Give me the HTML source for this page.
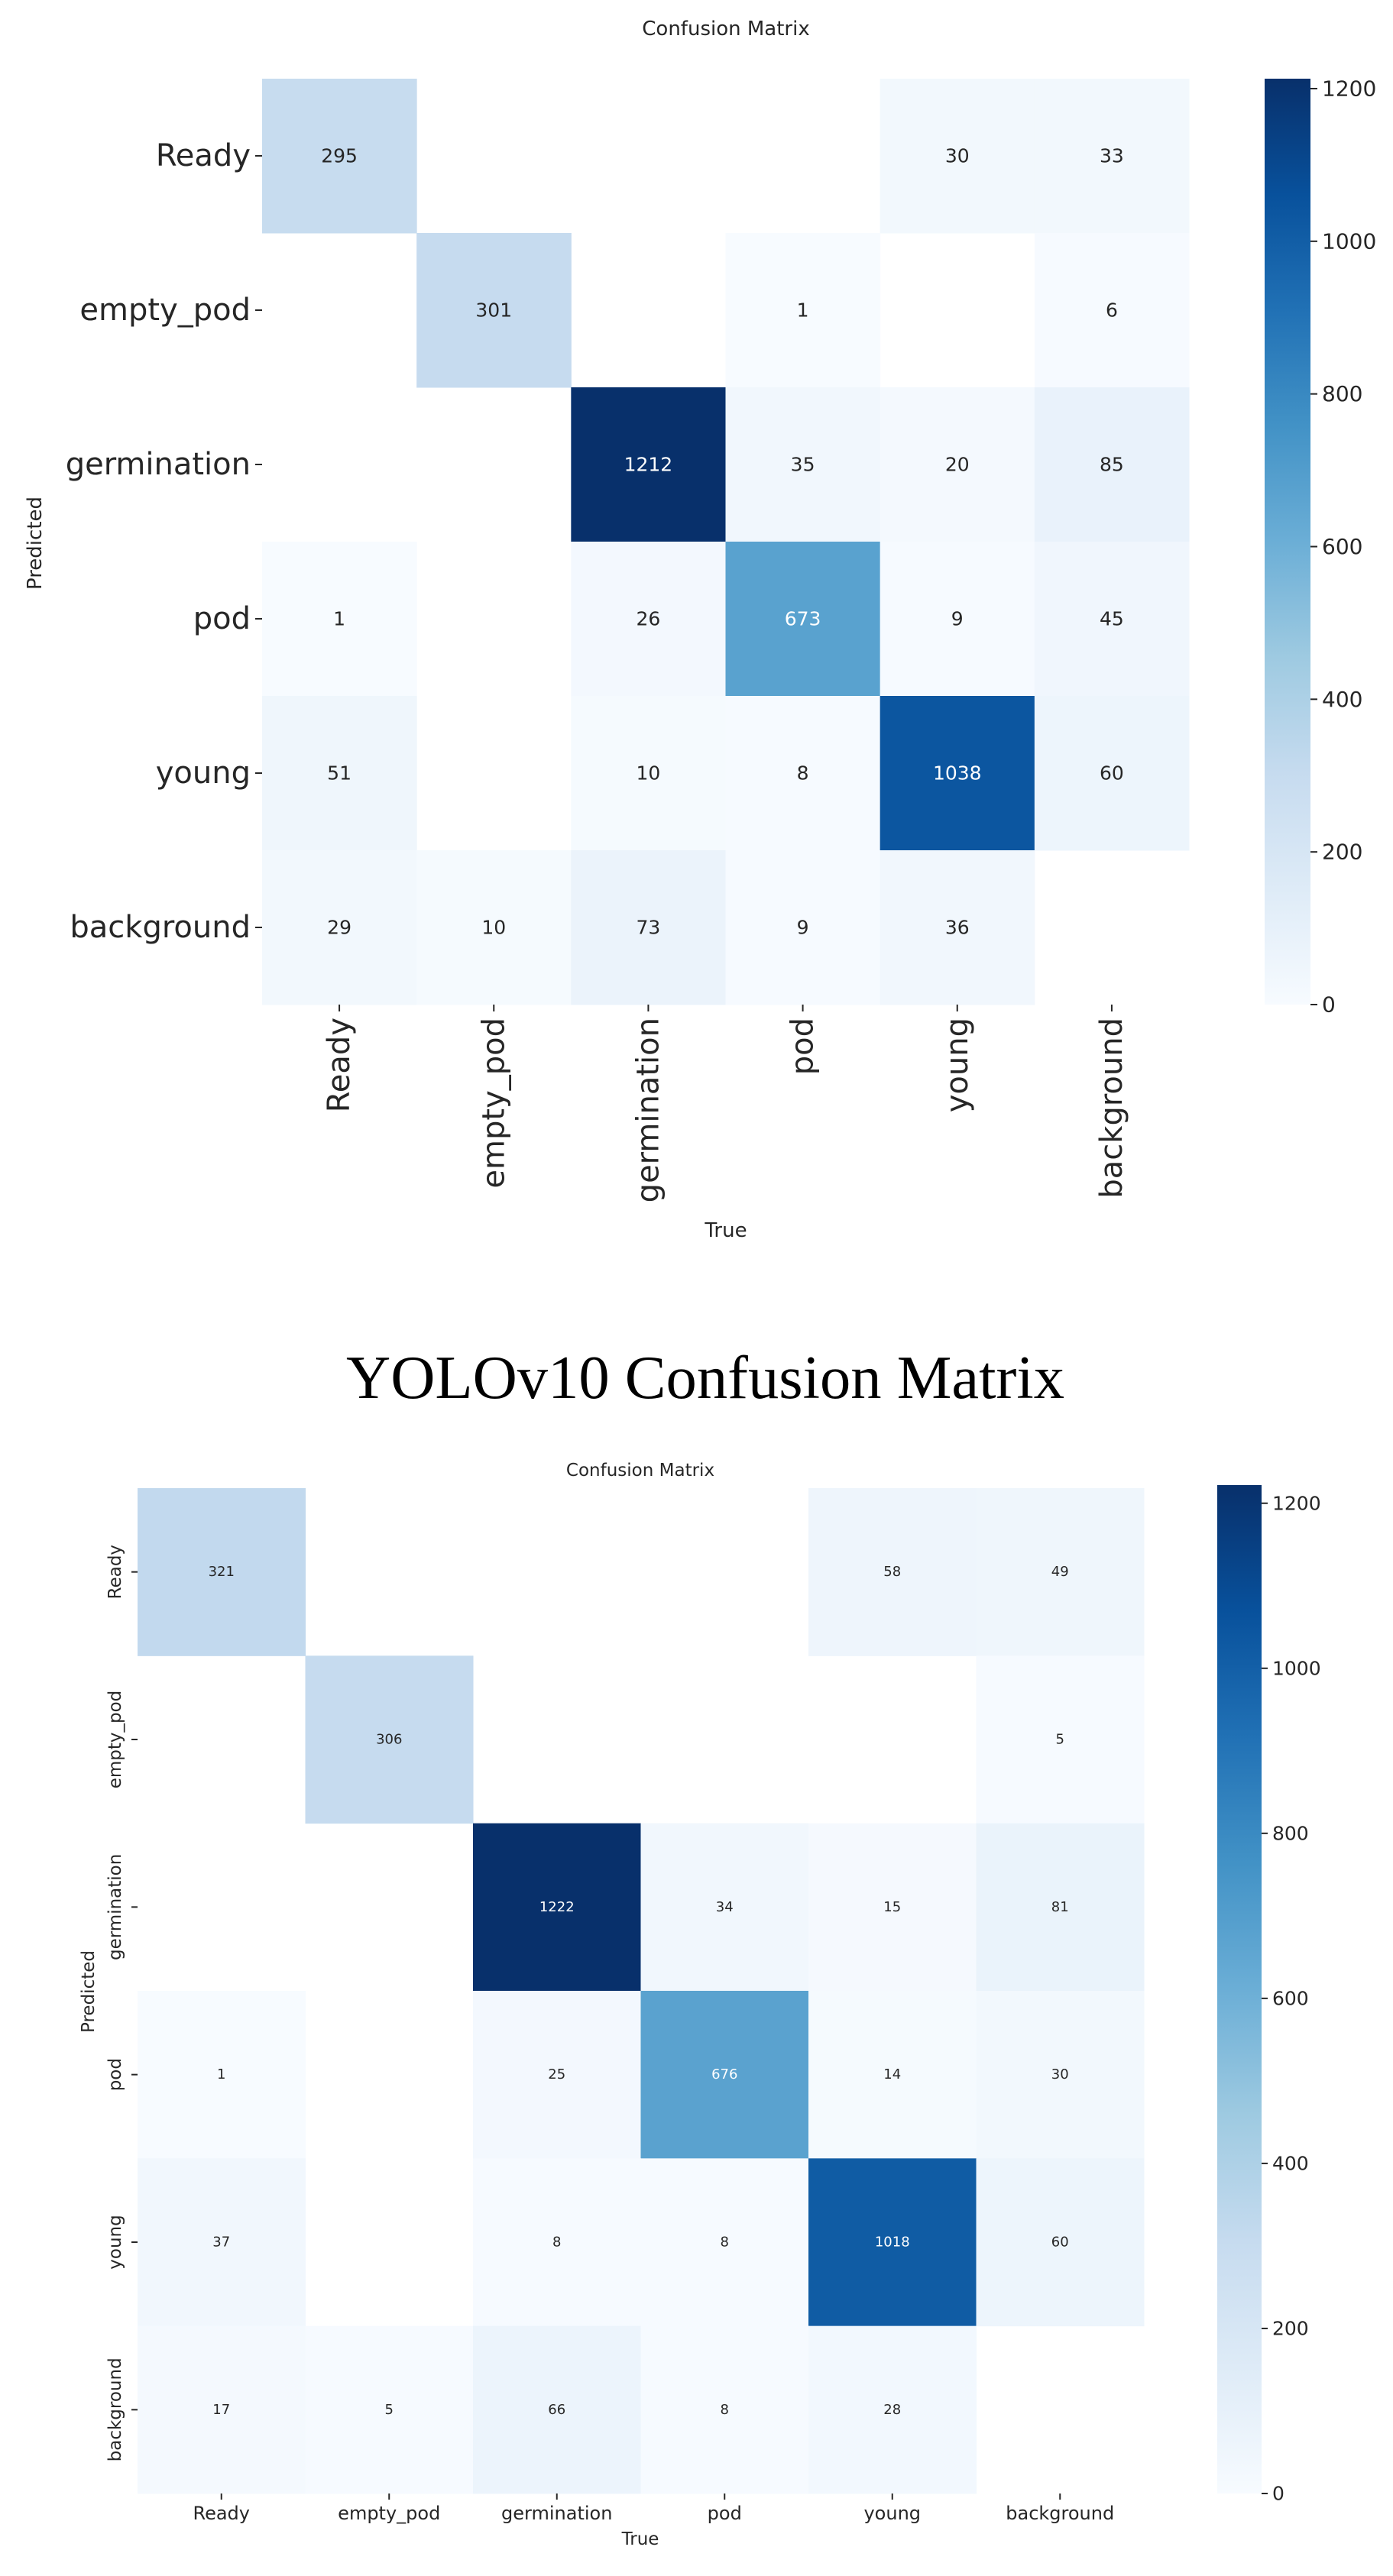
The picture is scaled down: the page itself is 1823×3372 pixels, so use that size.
<!DOCTYPE html>
<html><head><meta charset="utf-8">
<style>
html,body{margin:0;padding:0;background:#fff;}
svg{display:block;}
text{font-family:"DejaVu Sans","Liberation Sans",sans-serif;}
</style></head>
<body>
<svg id="root" width="1823" height="3372" viewBox="0 0 1823 3372" xmlns="http://www.w3.org/2000/svg">
<defs>
<linearGradient id="blues" x1="0" y1="1" x2="0" y2="0">
<stop offset="0" stop-color="#f7fbff"/><stop offset="0.125" stop-color="#deebf7"/><stop offset="0.25" stop-color="#c6dbef"/><stop offset="0.375" stop-color="#9ecae1"/><stop offset="0.5" stop-color="#6baed6"/><stop offset="0.625" stop-color="#4292c6"/><stop offset="0.75" stop-color="#2171b5"/><stop offset="0.875" stop-color="#08519c"/><stop offset="1" stop-color="#08306b"/>
</linearGradient>
</defs>
<text x="923" y="1830" text-anchor="middle" font-size="80" textLength="940" lengthAdjust="spacingAndGlyphs" style="font-family:'Liberation Serif',serif" fill="#000">YOLOv10 Confusion Matrix</text>
</svg>
<script>
const classes = ["Ready","empty_pod","germination","pod","young","background"];
const cbTicks = [0,200,400,600,800,1000,1200];
// rows = predicted, cols = true
const matrixA = [
 [295,0,0,0,30,33],
 [0,301,0,1,0,6],
 [0,0,1212,35,20,85],
 [1,0,26,673,9,45],
 [51,0,10,8,1038,60],
 [29,10,73,9,36,0]
];
const matrixB = [
 [321,0,0,0,58,49],
 [0,306,0,0,0,5],
 [0,0,1222,34,15,81],
 [1,0,25,676,14,30],
 [37,0,8,8,1018,60],
 [17,5,66,8,28,0]
];
const vmaxA = 1213;
const vmaxB = 1222;

const stops = [[247,251,255],[222,235,247],[198,219,239],[158,202,225],[107,174,214],[66,146,198],[33,113,181],[8,81,156],[8,48,107]];
function blues(t){
  t=Math.max(0,Math.min(1,t));
  const p=t*8, i=Math.min(7,Math.floor(p)), f=p-i;
  const a=stops[i], b=stops[i+1];
  return [0,1,2].map(k=>Math.round(a[k]+(b[k]-a[k])*f));
}
function lum(c){
  const l=c.map(v=>{v/=255;return v<=0.03928?v/12.92:Math.pow((v+0.055)/1.055,2.4);});
  return 0.2126*l[0]+0.7152*l[1]+0.0722*l[2];
}
const NS="http://www.w3.org/2000/svg";
const root=document.getElementById('root');
function mk(tag,attrs,parent,txt){
  const e=document.createElementNS(NS,tag);
  for(const k in attrs)e.setAttribute(k,attrs[k]);
  if(txt!==undefined)e.textContent=txt;
  (parent||root).appendChild(e);return e;
}

function drawChart(g, m, vmax, prefix){
  const grp=mk('g',{});
  
  
  const n=classes.length, cw=(g.x1-g.x0)/n, ch=(g.y1-g.y0)/n;
  const xs=j=>g.x0+j*cw, ys=i=>g.y0+i*ch;
  for(let i=0;i<n;i++)for(let j=0;j<n;j++){
    const v=m[i][j];
    if(!v)continue;
    const c=blues(v/vmax);
    const r=mk('rect',{x:xs(j),y:ys(i),width:cw+0.5,height:ch+0.5,fill:`rgb(${c})`},grp);
    
    
    const t=mk('text',{x:xs(j)+cw/2,y:ys(i)+ch/2,'text-anchor':'middle','dominant-baseline':'central','font-size':g.annot,fill:lum(c)>0.408?'#262626':'#ffffff'},grp,String(v));
    
    
  }
  for(let i=0;i<n;i++){
    const cy=ys(i)+ch/2;
    mk('line',{x1:g.x0-g.tick,y1:cy,x2:g.x0,y2:cy,stroke:'#262626','stroke-width':2},grp);
    let t;
    if(g.yRot){
      t=mk('text',{x:0,y:0,transform:`translate(${g.yLabX},${cy}) rotate(-90)`,'text-anchor':'middle','dominant-baseline':'central','font-size':g.yFont,fill:'#262626'},grp,classes[i]);
    }else{
      t=mk('text',{x:g.x0-g.tick-6,y:cy,'text-anchor':'end','dominant-baseline':'central','font-size':g.yFont,fill:'#262626'},grp,classes[i]);
    }
    
    
  }
  for(let j=0;j<n;j++){
    const cx=xs(j)+cw/2;
    mk('line',{x1:cx,y1:g.y1,x2:cx,y2:g.y1+g.tick,stroke:'#262626','stroke-width':2},grp);
    let t;
    if(g.xRot){
      t=mk('text',{x:0,y:0,transform:`translate(${cx},${g.y1+g.tick+8}) rotate(-90)`,'text-anchor':'end','dominant-baseline':'central','font-size':g.xFont,fill:'#262626'},grp,classes[j]);
    }else{
      t=mk('text',{x:cx,y:g.xLabY,'text-anchor':'middle','dominant-baseline':'central','font-size':g.xFont,fill:'#262626'},grp,classes[j]);
    }
    
    
  }
  const tt=mk('text',{x:g.titleX,y:g.titleY,'text-anchor':'middle','dominant-baseline':'central','font-size':g.tFont,fill:'#262626'},grp,'Confusion Matrix');
  
  
  const xt=mk('text',{x:g.titleX,y:g.trueY,'text-anchor':'middle','dominant-baseline':'central','font-size':g.tFont,fill:'#262626'},grp,'True');
  
  
  const yt=mk('text',{x:0,y:0,transform:`translate(${g.predX},${g.predY}) rotate(-90)`,'text-anchor':'middle','dominant-baseline':'central','font-size':g.tFont,fill:'#262626'},grp,'Predicted');
  
  
  const cbH=g.cbY1-g.cbY0;
  const cb=mk('rect',{x:g.cbX0,y:g.cbY0,width:g.cbX1-g.cbX0,height:cbH,fill:'url(#blues)'},grp);
  
  
  const cy=v=>g.cbY1-v/vmax*cbH;
  cbTicks.forEach(v=>{
    if(v>vmax)return;
    mk('line',{x1:g.cbX1,y1:cy(v),x2:g.cbX1+g.tick,y2:cy(v),stroke:'#262626','stroke-width':2},grp);
    const t=mk('text',{x:g.cbX1+g.tick+6,y:cy(v),'dominant-baseline':'central','font-size':g.cbFont,fill:'#262626'},grp,String(v));
    
    
  });
}

drawChart({x0:343,x1:1556,y0:103,y1:1315,annot:25,tick:9,yRot:false,yFont:40,xRot:true,xFont:40,
  titleX:950,titleY:38,trueY:1611,predX:46,predY:711,tFont:26,
  cbX0:1655,cbX1:1715,cbY0:103,cbY1:1315,cbFont:28}, matrixA, vmaxA, 'top');

drawChart({x0:180,x1:1497,y0:1948,y1:3264,annot:18,tick:8,yRot:true,yLabX:151,yFont:23,xRot:false,xFont:24,xLabY:3290,
  titleX:838,titleY:1925,trueY:3324,predX:116,predY:2607,tFont:23,
  cbX0:1593,cbX1:1651,cbY0:1944,cbY1:3264,cbFont:25}, matrixB, vmaxB, 'yolov10');
</script>
</body></html>
